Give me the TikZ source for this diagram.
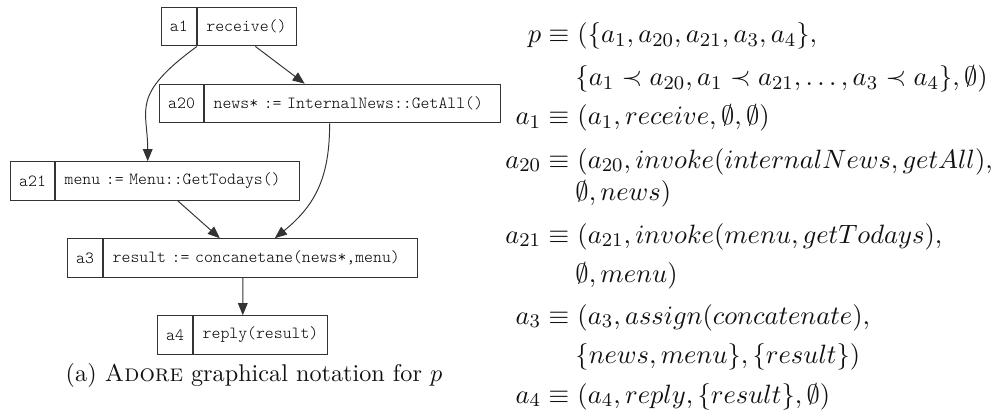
\documentclass[tikz,border=0pt]{standalone}
\usepackage{fontspec}
\usetikzlibrary{arrows.meta,calc,positioning}
\newfontfamily\codefont{Latin Modern Mono Light}
\definecolor{ink}{HTML}{111111}
\definecolor{edge}{HTML}{333333}
\newcommand{\BoxFont}{\codefont\fontsize{7}{8}\selectfont}
\newcommand{\CapFont}{\fontsize{10}{12}\selectfont}
\newcommand{\EqFont}{\fontsize{10.9}{13}\selectfont}
\tikzset{
  idcell/.style={draw=edge, line width=0.45pt, font=\BoxFont, text=black,
    inner sep=0pt, minimum height=15.9pt, minimum width=#1, anchor=west},
  opcell/.style={draw=edge, line width=0.45pt, font=\BoxFont, text=black,
    inner xsep=3.7pt, inner ysep=0pt, minimum height=15.9pt,
    text width=#1, align=left},
  flow/.style={-{Triangle[length=5pt,width=4pt]}, draw=edge, line width=0.4pt},
  eqlhs/.style={anchor=base east, inner sep=0pt, font=\EqFont, text=ink},
  eqrhs/.style={anchor=base west, inner sep=0pt, font=\EqFont, text=ink},
}
\begin{document}
\begin{tikzpicture}[x=0.413pt,y=-0.413pt]
  \useasboundingbox (0,0) rectangle (1000,414);

  % activities
  \node[idcell=14.5pt] (a1) at (160.7,26.7) {a1};
  \node[opcell=33.5pt, right=0pt of a1] (a1op) {receive()};

  \node[idcell=18.2pt] (a20) at (159,103.5) {a20};
  \node[opcell=114.8pt, right=0pt of a20] (a20op) {news* := InternalNews::GetAll()};

  \node[idcell=18.2pt] (a21) at (10,181) {a21};
  \node[opcell=93.4pt, right=0pt of a21] (a21op) {menu := Menu::GetTodays()};

  \node[idcell=14.5pt] (a3) at (67,258) {a3};
  \node[opcell=122.3pt, right=0pt of a3] (a3op) {result := concanetane(news*,menu)};

  \node[idcell=14.5pt] (a4) at (157,335) {a4};
  \node[opcell=47.9pt, right=0pt of a4] (a4op) {reply(result)};

  % control flow
  \draw[flow] ([xshift=3.5pt]a1op.south) -- ([xshift=-19.8pt]a20op.north);
  \draw[flow] (a1op.south west) .. controls +(-67,49) and +(0,-52) .. ([xshift=-12.4pt]a21op.north);
  \draw[flow] ([xshift=-9.5pt]a20op.south) .. controls +(0,52) and +(42,-34) .. ([xshift=5.8pt]a3op.north);
  \draw[flow] (a21op.south) -- ([xshift=-16.9pt]a3op.north);
  \draw[flow] ([xshift=-7.4pt]a3op.south) -- ([xshift=-7.4pt]a4op.north);

  \node[anchor=base, font=\CapFont, text=ink] (capA) at (254,381)
    {(a) \textsc{Adore} graphical notation for $p$};

  % formal definitions
  \node[eqlhs] (lp) at (577,43) {$p\equiv{}$};
  \node[eqrhs] (rp) at (577,43) {$(\{a_1,a_{20},a_{21},a_3,a_4\},$};
  \node[eqrhs] (rpb) at (575,86) {$\{a_1\prec a_{20},a_1\prec a_{21},\ldots,a_3\prec a_4\},\emptyset)$};

  \node[eqlhs] (la1) at (577,125) {$a_1\equiv{}$};
  \node[eqrhs] (ra1) at (577,125) {$(a_1,receive,\emptyset,\emptyset)$};

  \node[eqlhs] (la20) at (577,168) {$a_{20}\equiv{}$};
  \node[eqrhs] (ra20) at (577,168) {$(a_{20},invoke(internalNews,getAll),$};
  \node[eqrhs] (ra20b) at (575,200) {$\emptyset,news)$};

  \node[eqlhs] (la21) at (577,243) {$a_{21}\equiv{}$};
  \node[eqrhs] (ra21) at (577,243) {$(a_{21},invoke(menu,getTodays),$};
  \node[eqrhs] (ra21b) at (575,282) {$\emptyset,menu)$};

  \node[eqlhs] (la3) at (577,324) {$a_3\equiv{}$};
  \node[eqrhs] (ra3) at (577,324) {$(a_3,assign(concatenate),$};
  \node[eqrhs] (ra3b) at (575,363) {$\{news,menu\},\{result\})$};

  \node[eqlhs] (la4) at (577,403) {$a_4\equiv{}$};
  \node[eqrhs] (ra4) at (577,403) {$(a_4,reply,\{result\},\emptyset)$};
\end{tikzpicture}
\end{document}
